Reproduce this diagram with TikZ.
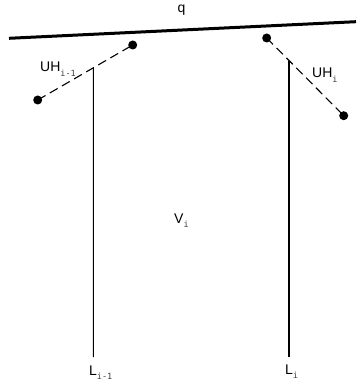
\documentclass[tikz,border=0pt]{standalone}
\usepackage{fontspec}
\setmainfont{Liberation Sans}
\newfontfamily\subfont{DejaVu Sans Mono}
\usetikzlibrary{calc}
\newcommand{\sublbl}[2]{#1\raisebox{-4.5pt}{\fontsize{8.5}{9}\subfont\color{black!75}#2}}

\begin{document}
\begin{tikzpicture}[x=1pt, y=-1pt, every node/.style={font=\fontsize{14}{16}\selectfont, inner sep=0pt, anchor=base west}, dot/.style={circle, fill, inner sep=0pt, minimum size=9pt}, hinge/.style={dash pattern=on 9pt off 5pt, line width=1.1pt}, wall/.style={line width=1.1pt}]
\useasboundingbox (0,0) rectangle (356,382);
% top line q
\coordinate (qa) at (9,38.3);
\coordinate (qb) at (356,21.7);
\draw[line width=3pt] (qa) -- (qb);
\node (q) at (177.5,12.3) {q};
% hinges
\node[dot] (uhl1) at (33,100) {};
\node[dot] (uhl2) at (128,45) {};
\node[dot] (uhr1) at (262,38) {};
\node[dot] (uhr2) at (339,115.7) {};
\draw[hinge] (uhl1.center) -- (uhl2.center);
\draw[hinge] (uhr1.center) -- (uhr2.center);
\node (uhl) at (40,72) {\sublbl{UH}{i-1}};
\node (uhr) at (312,78) {\sublbl{UH}{i}};
% walls
\coordinate (ltop) at (intersection of uhl1.center--uhl2.center and 93.3,0--93.3,300);
\coordinate (rtop) at (intersection of uhr1.center--uhr2.center and 289,0--289,300);
\coordinate (lbot) at (93.3,357);
\coordinate (rbot) at (289,357);
\draw[wall] (ltop) -- (lbot);
\draw[wall] (rtop) -- (rbot);
\node (ll) at (89,375) {\sublbl{L}{i-1}};
\node (lr) at (285,374) {\sublbl{L}{i}};
\node (v) at (174,223) {\sublbl{V}{i}};
\end{tikzpicture}
\end{document}
